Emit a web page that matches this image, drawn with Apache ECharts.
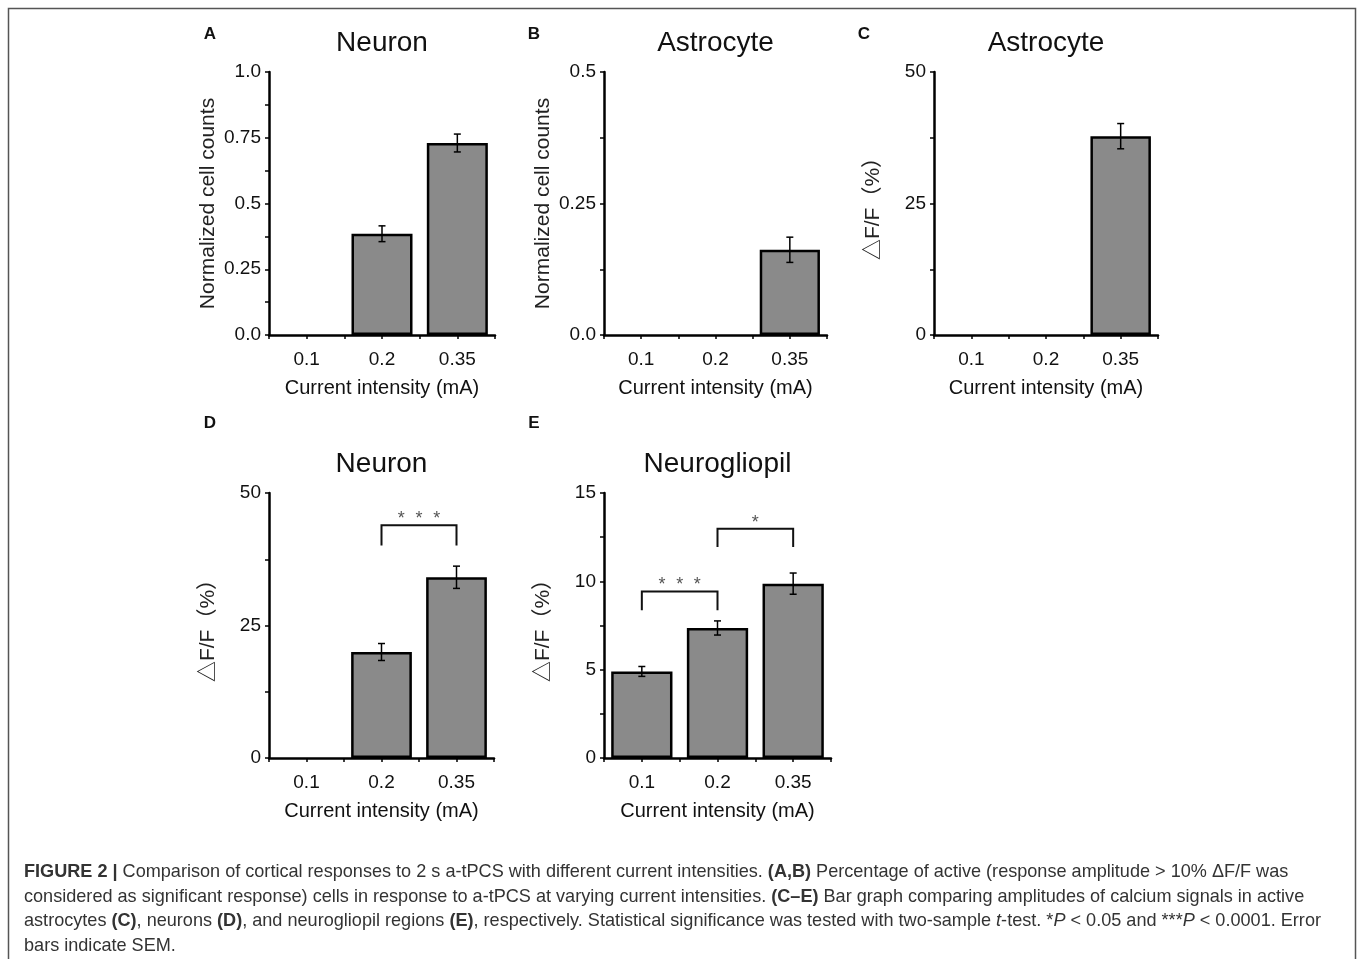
<!DOCTYPE html>
<html><head><meta charset="utf-8">
<script src="https://cdn.jsdelivr.net/npm/echarts@6/dist/echarts.min.js"></script>
<style>html,body{margin:0;padding:0;background:#fff}#c{width:1357px;height:959px}</style>
</head><body><div id="c"></div>
<script>
// ---------- data ----------
const categories = ['0.1', '0.2', '0.35'];

const neuronCountMean = [0, 0.385, 0.73];
const neuronCountSem  = [0, 0.03, 0.034];
const astroCountMean  = [0, 0, 0.162];
const astroCountSem   = [0, 0, 0.024];
const astroDffMean    = [0, 0, 37.8];
const astroDffSem     = [0, 0, 2.4];
const neuronDffMean   = [0, 20.0, 34.1];
const neuronDffSem    = [0, 1.6, 2.1];
const glioDffMean     = [4.9, 7.36, 9.87];
const glioDffSem      = [0.28, 0.4, 0.6];

// significance brackets: [fromIndex, toIndex, bracketTop, legBottom, starCount]
const neuronDffSig = [[1, 2, 43.9, 40.1, 3]];
const glioDffSig   = [[0, 1, 9.43, 8.36, 3], [1, 2, 12.98, 11.94, 1]];

const tickLabelsA = ['0.0', '0.25', '0.5', '0.75', '1.0'];
const tickLabelsB = ['0.0', '0.25', '0.5'];
const tickLabelsC = ['0', '25', '50'];
const tickLabelsD = ['0', '25', '50'];
const tickLabelsE = ['0', '5', '10', '15'];

const xName = 'Current intensity (mA)';
const countName = 'Normalized cell counts';
const dffName = '△F/F（%）';

// ---------- layout ----------
const FONT = '"Liberation Sans", Arial, "Noto Sans CJK SC", sans-serif';
const panels = [
  {letter: 'A', title: 'Neuron',       g: {left: 269, top: 72,  width: 226, height: 263}, yName: countName, max: 1.0, interval: 0.25, labels: tickLabelsA, mean: neuronCountMean, sem: neuronCountSem, sig: [], lx: 210, ly: 34},
  {letter: 'B', title: 'Astrocyte',    g: {left: 604, top: 72,  width: 223, height: 263}, yName: countName, max: 0.5, interval: 0.25, labels: tickLabelsB, mean: astroCountMean,  sem: astroCountSem,  sig: [], lx: 534, ly: 34},
  {letter: 'C', title: 'Astrocyte',    g: {left: 934, top: 72,  width: 224, height: 263}, yName: dffName,   max: 50,  interval: 25,   labels: tickLabelsC, mean: astroDffMean,    sem: astroDffSem,    sig: [], lx: 864, ly: 34},
  {letter: 'D', title: 'Neuron',       g: {left: 269, top: 493, width: 225, height: 265}, yName: dffName,   max: 50,  interval: 25,   labels: tickLabelsD, mean: neuronDffMean,   sem: neuronDffSem,   sig: neuronDffSig, lx: 210, ly: 423},
  {letter: 'E', title: 'Neurogliopil', g: {left: 604, top: 493, width: 227, height: 265}, yName: dffName,   max: 15,  interval: 5,    labels: tickLabelsE, mean: glioDffMean,     sem: glioDffSem,     sig: glioDffSig, lx: 534, ly: 423}
];

const grid = [], xAxis = [], yAxis = [], series = [], graphic = [];

panels.forEach((p, i) => {
  grid.push(Object.assign({containLabel: false}, p.g));
  // main x axis (line, boundary ticks, labels, name)
  xAxis.push({
    type: 'category', gridIndex: i, data: categories, position: 'bottom',
    axisLine: {lineStyle: {color: '#000', width: 2.5}},
    axisTick: {show: true, length: 4, lineStyle: {color: '#000', width: 1.5}},
    axisLabel: {color: '#111', fontSize: 19, fontFamily: FONT, margin: 15},
    name: xName, nameLocation: 'middle', nameGap: 43,
    nameTextStyle: {color: '#111', fontSize: 20, fontFamily: FONT}
  });
  // overlay x axis for centre ticks
  xAxis.push({
    type: 'category', gridIndex: i, data: categories, position: 'bottom',
    axisLine: {show: false},
    axisTick: {show: true, alignWithLabel: true, length: 4, lineStyle: {color: '#000', width: 1.5}},
    axisLabel: {show: false}
  });
  yAxis.push({
    type: 'value', gridIndex: i, min: 0, max: p.max, interval: p.interval,
    axisLine: {show: true, lineStyle: {color: '#000', width: 2.5}},
    axisTick: {show: true, length: 4, lineStyle: {color: '#000', width: 1.5}},
    minorTick: {show: true, splitNumber: 2, length: 4, lineStyle: {color: '#000', width: 1.5}},
    splitLine: {show: false},
    axisLabel: {color: '#111', fontSize: 19, fontFamily: FONT, margin: 8,
      formatter: (v) => p.labels[Math.round(v / p.interval)]},
    name: p.yName, nameLocation: 'middle', nameGap: 50,
    nameTextStyle: {color: '#222', fontSize: 21, fontFamily: FONT}
  });
  const xi = i * 2;
  series.push({
    type: 'bar', xAxisIndex: xi, yAxisIndex: i, barWidth: '81%', z: 2,
    data: p.mean.map(v => v === 0 ? {value: v, itemStyle: {borderWidth: 0}} : v),
    itemStyle: {color: '#8a8a8a', borderColor: '#000', borderWidth: 2.5},
    silent: true, animation: false
  });
  series.push({
    type: 'custom', xAxisIndex: xi, yAxisIndex: i, animation: false, silent: true, z: 5,
    data: p.mean.map((m, k) => [k, m, p.sem[k]]),
    encode: {x: 0, y: 1},
    renderItem: (params, api) => {
      const x = api.value(0), m = api.value(1), e = api.value(2);
      if (!e) return;
      const t = api.coord([x, m + e]), b = api.coord([x, m - e]);
      const c = 3.5, st = {stroke: '#000', lineWidth: 1.5};
      return {type: 'group', children: [
        {type: 'line', shape: {x1: t[0], y1: t[1], x2: b[0], y2: b[1]}, style: st},
        {type: 'line', shape: {x1: t[0] - c, y1: t[1], x2: t[0] + c, y2: t[1]}, style: st},
        {type: 'line', shape: {x1: b[0] - c, y1: b[1], x2: b[0] + c, y2: b[1]}, style: st}
      ]};
    }
  });
  if (p.sig.length) {
    series.push({
      type: 'custom', xAxisIndex: xi, yAxisIndex: i, animation: false, silent: true, z: 5,
      data: p.sig, encode: {x: [0, 1], y: [2, 3]},
      renderItem: (params, api) => {
        const a = api.value(0), b = api.value(1), top = api.value(2), leg = api.value(3), n = api.value(4);
        const p1 = api.coord([a, top]), p2 = api.coord([b, top]);
        const l1 = api.coord([a, leg]), l2 = api.coord([b, leg]);
        const children = [{type: 'polyline', shape: {points: [[l1[0], l1[1]], [p1[0], p1[1]], [p2[0], p2[1]], [l2[0], l2[1]]]},
          style: {stroke: '#111', lineWidth: 2, fill: null}}];
        const cx = (p1[0] + p2[0]) / 2, sp = 17.7;
        for (let k = 0; k < n; k++) {
          children.push({type: 'text', x: cx + (k - (n - 1) / 2) * sp, y: p1[1] - 6,
            style: {text: '*', fill: '#555', fontSize: 18, fontFamily: FONT, align: 'center', verticalAlign: 'middle'}});
        }
        return {type: 'group', children};
      }
    });
  }
  graphic.push({type: 'text', x: p.g.left + p.g.width / 2, y: p.g.top - 29,
    style: {text: p.title, fill: '#111', fontSize: 28, fontFamily: FONT, align: 'center', verticalAlign: 'middle'}});
  graphic.push({type: 'text', x: p.lx, y: p.ly,
    style: {text: p.letter, fill: '#111', fontSize: 17, fontWeight: 'bold', fontFamily: FONT, align: 'center', verticalAlign: 'middle'}});
});

// frame
graphic.push({type: 'rect', shape: {x: 8.5, y: 8.5, width: 1347, height: 990},
  style: {fill: null, stroke: '#555', lineWidth: 1.5}, silent: true});

// caption
const captionLines = [
  '{b|FIGURE 2 |} Comparison of cortical responses to 2 s a-tPCS with different current intensities. {b|(A,B)} Percentage of active (response amplitude > 10% ΔF/F was',
  'considered as significant response) cells in response to a-tPCS at varying current intensities. {b|(C–E)} Bar graph comparing amplitudes of calcium signals in active',
  'astrocytes {b|(C)}, neurons {b|(D)}, and neurogliopil regions {b|(E)}, respectively. Statistical significance was tested with two-sample {i|t}-test. *{i|P} < 0.05 and ***{i|P} < 0.0001. Error',
  'bars indicate SEM.'
];
const capY = [872, 896.5, 921, 945.5];
const CAPSIZE = 18.1;
captionLines.forEach((t, k) => {
  graphic.push({type: 'text', x: 24, y: capY[k],
    style: {text: t, fill: '#333', fontSize: CAPSIZE, fontFamily: FONT, verticalAlign: 'middle',
      rich: {b: {fontWeight: 'bold', fontSize: CAPSIZE, fontFamily: FONT, fill: '#333'},
             i: {fontStyle: 'italic', fontSize: CAPSIZE, fontFamily: FONT, fill: '#333'}}}});
});

const chart = echarts.init(document.getElementById('c'), null, {renderer: 'canvas'});
chart.setOption({animation: false, backgroundColor: '#fff', grid, xAxis, yAxis, series, graphic});
</script>
</body></html>
